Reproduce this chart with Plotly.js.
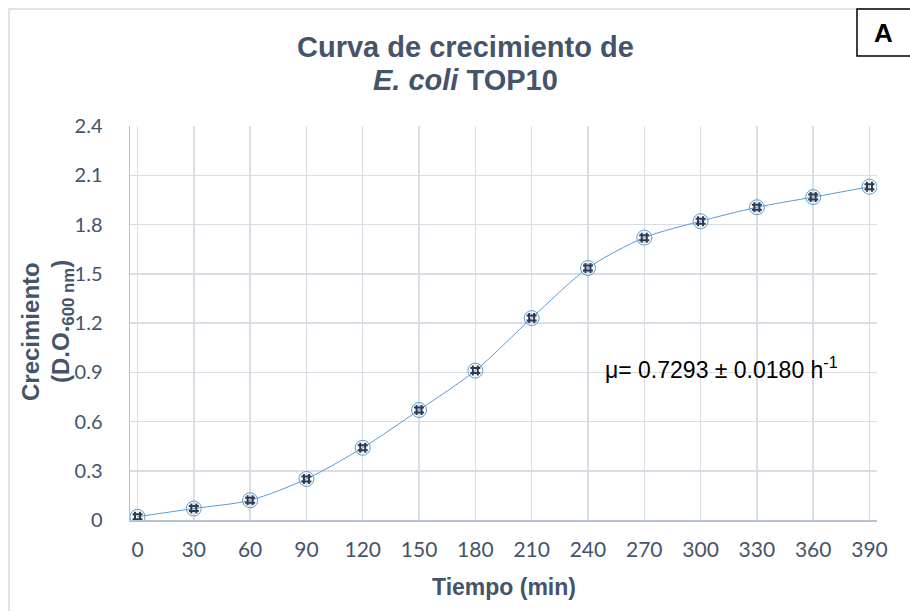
<!DOCTYPE html>
<html>
<head>
<meta charset="utf-8">
<script src="https://cdn.plot.ly/plotly-3.0.1.min.js"></script>
<style>html,body{margin:0;padding:0;background:#fff;}#chart{width:910px;height:611px;}</style>
</head>
<body>
<div id="chart"></div>
<script>
var timeMin = [0, 30, 60, 90, 120, 150, 180, 210, 240, 270, 300, 330, 360, 390];
var growthOD = [0.02, 0.07, 0.12, 0.25, 0.44, 0.67, 0.91, 1.23, 1.535, 1.72, 1.82, 1.905, 1.967, 2.03];
var xTicks = [0, 30, 60, 90, 120, 150, 180, 210, 240, 270, 300, 330, 360, 390];
var yTicks = [0, 0.3, 0.6, 0.9, 1.2, 1.5, 1.8, 2.1, 2.4];
var yTickText = ['0', '0.3', '0.6', '0.9', '1.2', '1.5', '1.8', '2.1', '2.4'];

var traces = [
  {x: timeMin, y: growthOD, mode: 'lines+markers', type: 'scatter',
   line: {color: '#5b9bd5', width: 1, shape: 'spline', smoothing: 0.8},
   marker: {symbol: 'circle-open', size: 15, color: '#5b9bd5', line: {width: 1, color: '#5b9bd5'}},
   hoverinfo: 'none'},
  {x: timeMin, y: growthOD, mode: 'markers', type: 'scatter',
   marker: {symbol: 'hash-open', size: 10, color: '#2b3a50', line: {width: 2, color: '#2b3a50'}},
   hoverinfo: 'none'}
];

var L = 130, R = 877, T = 126, B = 520;
function px(x){ return (x - L) / (R - L); }
function py(y){ return (B - y) / (B - T); }

var layout = {
  width: 910, height: 611,
  margin: {l: L, r: 910 - R, t: T, b: 611 - B},
  paper_bgcolor: '#ffffff', plot_bgcolor: '#ffffff',
  showlegend: false,
  xaxis: {range: [-4, 394], tickvals: xTicks, ticktext: xTicks.map(String),
          showgrid: true, gridcolor: '#d9dee6', gridwidth: 1.5,
          showline: true, linecolor: '#b8c3d2', linewidth: 1.5, zeroline: false,
          ticks: 'outside', ticklen: 10, tickcolor: 'rgba(0,0,0,0)',
          tickfont: {family: 'Lato, Open Sans, sans-serif', size: 21, color: '#44546a'},
          title: {text: ''}},
  yaxis: {range: [0, 2.4], tickvals: yTicks, ticktext: yTickText,
          showgrid: true, gridcolor: '#d9dee6', gridwidth: 1.5,
          showline: true, linecolor: '#b8c3d2', linewidth: 1.5, zeroline: false,
          ticks: 'outside', ticklen: 22, tickcolor: 'rgba(0,0,0,0)',
          tickfont: {family: 'Lato, Open Sans, sans-serif', size: 20, color: '#44546a'},
          title: {text: ''}},
  shapes: [
    {type: 'rect', xref: 'paper', yref: 'paper', x0: px(9), x1: px(930), y0: py(640), y1: py(9),
     line: {color: '#d9d9d9', width: 1.5}, fillcolor: 'rgba(0,0,0,0)', layer: 'below'},
    {type: 'rect', xref: 'paper', yref: 'paper', x0: px(857), x1: px(925), y0: py(56), y1: py(9),
     line: {color: '#000000', width: 1.5}, fillcolor: '#ffffff', layer: 'above'}
  ],
  annotations: [
    {text: '<b>Curva de crecimiento de</b>', xref: 'paper', yref: 'paper',
     x: px(465), y: py(47), xanchor: 'center', yanchor: 'middle', showarrow: false,
     font: {family: 'Liberation Sans, Arial, sans-serif', size: 29, color: '#44546a'}},
    {text: '<b><i>E. coli</i> TOP10</b>', xref: 'paper', yref: 'paper',
     x: px(465), y: py(80), xanchor: 'center', yanchor: 'middle', showarrow: false,
     font: {family: 'Liberation Sans, Arial, sans-serif', size: 29, color: '#44546a'}},
    {text: '<b>Tiempo (min)</b>', xref: 'paper', yref: 'paper',
     x: px(504), y: py(587), xanchor: 'center', yanchor: 'middle', showarrow: false,
     font: {family: 'Liberation Sans, Arial, sans-serif', size: 23, color: '#44546a'}},
    {text: '<b>Crecimiento</b>', xref: 'paper', yref: 'paper',
     x: px(30), y: py(332), xanchor: 'center', yanchor: 'middle', textangle: -90, showarrow: false,
     font: {family: 'Liberation Sans, Arial, sans-serif', size: 24, color: '#44546a'}},
    {text: '<b>(D.O.<sub>600 nm</sub>)</b>', xref: 'paper', yref: 'paper',
     x: px(62), y: py(322), xanchor: 'center', yanchor: 'middle', textangle: -90, showarrow: false,
     font: {family: 'Liberation Sans, Arial, sans-serif', size: 24, color: '#44546a'}},
    {text: 'μ= 0.7293 ± 0.0180 h<sup>-1</sup>', xref: 'paper', yref: 'paper',
     x: px(603), y: py(368), xanchor: 'left', yanchor: 'middle', showarrow: false,
     font: {family: 'Liberation Sans, Arial, sans-serif', size: 23, color: '#000000'}},
    {text: '<b>A</b>', xref: 'paper', yref: 'paper',
     x: px(883), y: py(33), xanchor: 'center', yanchor: 'middle', showarrow: false,
     font: {family: 'Liberation Sans, Arial, sans-serif', size: 26, color: '#000000'}}
  ]
};

Plotly.newPlot('chart', traces, layout, {displayModeBar: false, staticPlot: true});
</script>
</body>
</html>
